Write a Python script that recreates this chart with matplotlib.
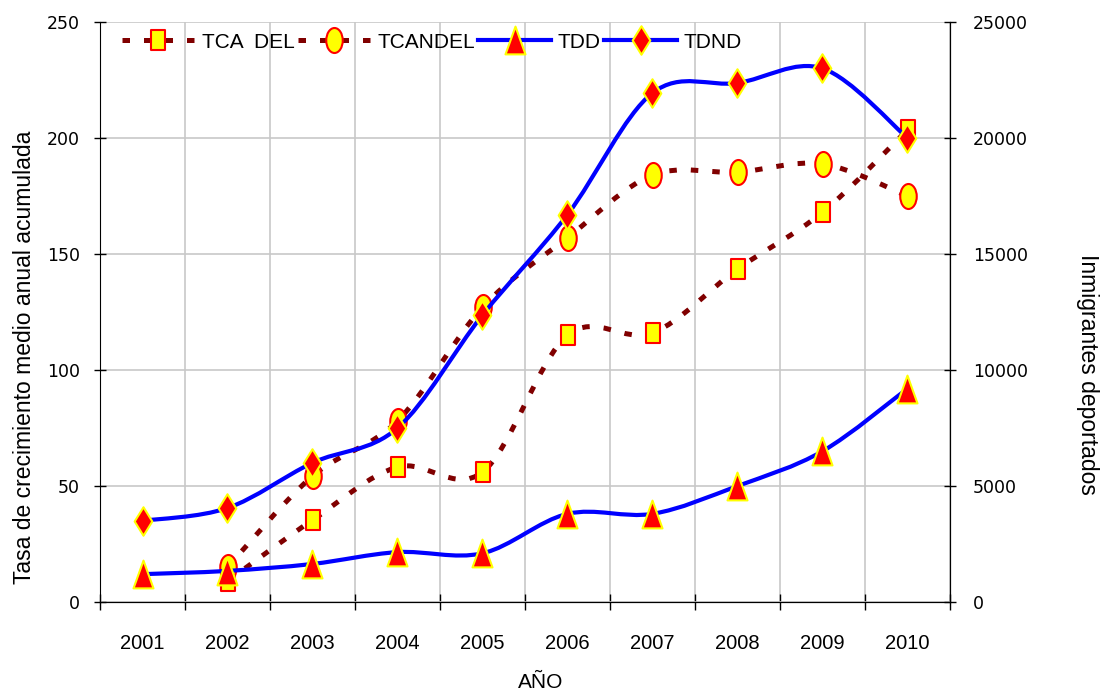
import numpy as np

import matplotlib

matplotlib.use("Agg")
import matplotlib.pyplot as plt
from matplotlib.lines import Line2D
from matplotlib.patches import PathPatch
from matplotlib.path import Path

# values
YEARS = ["2001", "2002", "2003", "2004", "2005", "2006", "2007", "2008", "2009", "2010"]
TCA_DEL = [np.nan, 9, 35.3, 58.2, 56, 115, 116, 143.5, 168, 203.5]
TCANDEL = [np.nan, 15, 54.3, 78, 127, 157, 184, 185.3, 188.8, 175]
TDD = [1200, 1340, 1640, 2150, 2100, 3800, 3800, 5000, 6500, 9200]
TDND = [3500, 4050, 6000, 7500, 12370, 16700, 21940, 22370, 23000, 20000]

NARROW = ["Liberation Sans", "DejaVu Sans"]
DARK_RED = "#800000"
BLUE = "#0000ff"
DASH = (0, (1.5, 2.8))


def _marker(verts):
	return Path(np.asarray(verts, dtype=float), closed=True)


SQUARE = _marker([(-0.37, -0.5), (0.37, -0.5), (0.37, 0.5), (-0.37, 0.5), (-0.37, -0.5)])
_circ = Path.unit_circle()
ELLIPSE = Path(_circ.vertices * np.array([0.66, 1.0]), _circ.codes)
DIAMOND = _marker([(0, 1), (0.62, 0), (0, -1), (-0.62, 0), (0, 1)])
TRIANGLE = _marker([(-0.72, -1), (0.72, -1), (0, 1), (-0.72, -1)])


def _smooth_path(xs, ys):
	"""Excel-like smoothed line: cubic Bezier segments through the points."""
	pts = [(x, y) for x, y in zip(xs, ys) if np.isfinite(y)]
	pts = np.array(pts, dtype=float)
	n = len(pts)
	verts = [tuple(pts[0])]
	codes = [Path.MOVETO]
	for i in range(n - 1):
		prev_p = pts[i - 1] if i > 0 else pts[i]
		next_p = pts[i + 2] if i + 2 < n else pts[i + 1]
		c1 = pts[i] + (pts[i + 1] - prev_p) / 6.0
		c2 = pts[i + 1] - (next_p - pts[i]) / 6.0
		verts += [tuple(c1), tuple(c2), tuple(pts[i + 1])]
		codes += [Path.CURVE4] * 3
	return Path(verts, codes)


fig = plt.figure(figsize=(11.04, 6.95), dpi=100)
ax = fig.add_axes([100 / 1104, 1 - 602 / 695, 850 / 1104, 580 / 695])
ax2 = ax.twinx()

x = np.arange(len(YEARS))

series = [
	(ax, TCA_DEL, "TCA  DEL", DARK_RED, 3.6, DASH, SQUARE, "#ffff00", "#ff0000", 14.5),
	(ax, TCANDEL, "TCANDEL", DARK_RED, 3.6, DASH, ELLIPSE, "#ffff00", "#ff0000", 18),
	(ax2, TDD, "TDD", BLUE, 3.0, "-", TRIANGLE, "#ff0000", "#ffff00", 20),
	(ax2, TDND, "TDND", BLUE, 3.0, "-", DIAMOND, "#ff0000", "#ffff00", 20.5),
]

handles = []
for target, values, label, color, lw, ls, marker, face, edge, ms in series:
	patch = PathPatch(
		_smooth_path(x, values), fill=False, edgecolor=color, linewidth=lw,
		linestyle=ls, capstyle="butt", zorder=2,
	)
	target.add_patch(patch)
	target.plot(
		x, values, linestyle="none", marker=marker, markersize=ms,
		markerfacecolor=face, markeredgecolor=edge, markeredgewidth=1.5, zorder=3,
	)
	handles.append(Line2D(
		[], [], color=color, linewidth=lw, linestyle=ls, dash_capstyle="butt",
		marker=marker, markersize=ms, markerfacecolor=face,
		markeredgecolor=edge, markeredgewidth=1.5, label=label,
	))

ax.set_xlim(-0.5, len(YEARS) - 0.5)
ax.set_ylim(0, 250)
ax2.set_ylim(0, 25000)

ax.set_xticks(np.arange(len(YEARS) + 1) - 0.5)
ax.set_xticklabels([])
ax.set_xticks(x, minor=True)
ax.set_xticklabels(YEARS, minor=True, fontsize=14.5, family=NARROW)
ax.tick_params(axis="x", which="major", direction="inout", length=12, width=1)
ax.tick_params(axis="x", which="minor", length=0, pad=23)

ax.set_yticks(np.arange(0, 251, 50))
ax.tick_params(axis="y", direction="inout", length=9, width=1, labelsize=12.5, pad=10)
ax2.set_yticks(np.arange(0, 25001, 5000))
ax2.tick_params(axis="y", direction="inout", length=9, width=1, labelsize=12.5, pad=12)

ax.grid(True, which="major", color="#c8c8c8", linewidth=1.2)
ax.set_axisbelow(True)
ax.spines["top"].set_visible(False)
ax2.spines["top"].set_visible(False)
ax2.spines["left"].set_visible(False)

fig.text(25 / 1104, 1 - 357 / 695, "Tasa de crecimiento medio anual acumulada",
	rotation=90, ha="center", va="center", fontsize=16.5, family=NARROW)
fig.text(1088 / 1104, 1 - 374 / 695, "Inmigrantes deportados",
	rotation=270, ha="center", va="center", fontsize=16.5, family=NARROW)
fig.text(541 / 1104, 1 - 683 / 695, "AÑO", ha="center", va="center", fontsize=15, family=NARROW)

ax2.legend(
	handles=handles, loc="center left", bbox_to_anchor=(122 / 1104, 1 - 42 / 695),
	bbox_transform=fig.transFigure, ncol=4, frameon=False, borderpad=0, borderaxespad=0,
	handlelength=3.5, handletextpad=0.33, columnspacing=0.15,
	prop={"family": NARROW, "size": 15},
)

fig.savefig("out.png", dpi=100)
